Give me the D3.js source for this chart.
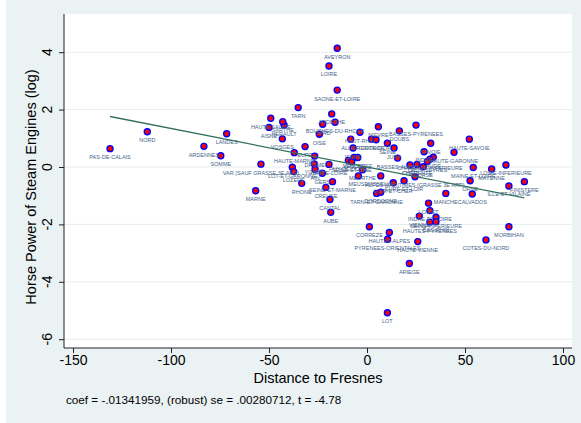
<!DOCTYPE html>
<html><head><meta charset="utf-8">
<script src="https://cdn.jsdelivr.net/npm/d3@7"></script>
<style>body{margin:0;background:#fff}</style>
</head><body>
<svg id="c" width="581" height="423"></svg>
<script>
const departments = ["PAS-DE-CALAIS","NORD","ARDENNES","SOMME","LANDES","MARNE","VAR (SAUF GRASSE 3E ARR)","AVEYRON","LOIRE","SAONE-ET-LOIRE",
"TARN","ARDECHE","BOUCHES-DU-RHONE","GARD","HAUTE-SAONE","AISNE","HERAULT","SARTHE","VOSGES","OISE",
"EURE","HAUTE-MARNE","DROME","YONNE","AIN","HAUTE-LOIRE","LOT-ET-GARONNE","LOZERE","RHONE","GERS",
"SEINE-ET-MARNE","CREUSE","CANTAL","AUBE","HAUT-RHIN","NIEVRE","DOUBS","BASSES-PYRENEES","ALLIER","ISERE",
"GIRONDE","COTE-D'OR","SEINE","JURA","SAVOIE","HAUTE-SAVOIE","HAUTE-GARONNE","PUY-DE-DOME","VENDEE","VAUCLUSE",
"SEINE-ET-OISE","MEURTHE","MEUSE","MOSELLE","LOIR-ET-CHER","EURE-ET-LOIR","ALPES-MARITIMES (GRASSE 3E ARR)","TARN-ET-GARONNE","DORDOGNE","BASSES-ALPES",
"INDRE","AUDE","CHARENTE-INFERIEURE","DEUX-SEVRES","CHARENTE","CHER","CORSE","MAINE-ET-LOIRE","MAYENNE","LOIRE-INFERIEURE",
"ORNE","MANCHE","CALVADOS","ILLE-ET-VILAINE","FINISTERE","LOIRET","INDRE-ET-LOIRE","VIENNE","SEINE-INFERIEURE","HAUTES-PYRENEES",
"BAS-RHIN","HAUTE-VIENNE","MORBIHAN","COTES-DU-NORD","ARIEGE","LOT","CORREZE","HAUTES-ALPES","PYRENEES-ORIENTALES"];
const distance = [-131.1,-112.1,-83.2,-74.6,-71.6,-56.8,-54.1,-15.2,-19.4,-15.2,
-35.1,-18.0,-16.3,-22.6,-49.1,-50.0,-42.3,-43.0,-43.2,-24.3,
-31.6,-37.1,-26.7,-26.9,-26.5,-19.4,-38.1,-37.4,-33.3,-22.8,
-17.6,-21.0,-18.9,-18.5,-3.6,5.8,16.5,25.0,-8.3,-7.1,
2.3,4.6,10.4,13.8,32.5,52.2,44.4,-9.5,-6.6,-4.7,
-7.8,-2.3,-4.4,7.0,13.4,18.9,24.5,4.9,7.0,15.6,
29.1,33.8,32.1,30.8,25.5,21.9,28.7,54.2,63.6,70.9,
52.6,40.2,53.7,72.4,80.3,31.4,32.1,26.7,35.2,32.1,
35.2,25.9,72.4,60.7,21.6,10.4,1.2,11.4,10.5];
const horsepower = [0.64,1.23,0.72,0.39,1.16,-0.83,0.10,4.14,3.52,2.68,
2.07,1.85,1.56,1.49,1.70,1.38,1.46,1.58,0.98,1.14,
0.71,0.50,0.38,0.11,-0.08,0.09,-0.01,-0.16,-0.57,-0.22,
-0.51,-0.71,-1.13,-1.58,1.21,1.40,1.26,1.46,0.97,0.66,
0.97,0.95,0.83,0.66,0.83,0.97,0.51,0.23,0.33,0.33,
0.18,-0.10,-0.31,-0.31,-0.55,-0.48,-0.34,-0.92,-0.88,0.31,
0.53,0.34,0.27,0.19,0.09,0.07,0.01,-0.02,-0.07,0.07,
-0.48,-0.92,-0.94,-0.66,-0.51,-1.26,-1.52,-1.71,-1.75,-1.92,
-1.91,-2.60,-2.08,-2.54,-3.36,-5.08,-2.08,-2.28,-2.52];
const xTicks = [-150,-100,-50,0,50,100];
const yTicks = [-6,-4,-2,0,2,4];
const coef = -0.01341959;
const xTitle = "Distance to Fresnes";
const yTitle = "Horse Power of Steam Engines (log)";
const noteText = "coef = -.01341959, (robust) se = .00280712, t = -4.78";

const font = "'Liberation Sans', Arial, Helvetica, sans-serif";
const svg = d3.select("#c");
const W = 581, H = 423;
const plot = {l: 64, t: 14, r: 572, b: 348};

svg.append("rect").attr("x", 6).attr("y", 0).attr("width", W - 6).attr("height", H).attr("fill", "#eaf2f3");
svg.append("rect").attr("x", plot.l).attr("y", plot.t).attr("width", plot.r - plot.l).attr("height", plot.b - plot.t).attr("fill", "#ffffff");

const x = d3.scaleLinear().domain([-150, 100]).range([73, 563]);
const y = d3.scaleLinear().domain([-6, 4]).range([339.2, 52.2]);

// grid
svg.append("g").selectAll("line").data(yTicks).join("line")
  .attr("x1", plot.l).attr("x2", plot.r)
  .attr("y1", d => y(d)).attr("y2", d => y(d))
  .attr("stroke", "#e4edef").attr("stroke-width", 1);

// y axis
const yAxis = svg.append("g").attr("transform", `translate(${plot.l},0)`)
  .call(d3.axisLeft(y).tickValues(yTicks).tickSize(5).tickFormat(d3.format("d")));
yAxis.select(".domain").attr("d", `M0,${plot.t}V${plot.b}`).attr("stroke", "#222");
yAxis.selectAll(".tick line").attr("stroke", "#222");
yAxis.selectAll(".tick text").remove();
svg.append("g").selectAll("text").data(yTicks).join("text")
  .attr("transform", d => `translate(52,${y(d)}) rotate(-90)`)
  .attr("text-anchor", "middle").attr("font-family", font).attr("font-size", 14)
  .attr("fill", "#000").text(d => d3.format("d")(d).replace("\u2212", "-"));

// x axis
const xAxis = svg.append("g").attr("transform", `translate(0,${plot.b})`)
  .call(d3.axisBottom(x).tickValues(xTicks).tickSize(5).tickFormat(d => d3.format("d")(d).replace("\u2212", "-")));
xAxis.select(".domain").attr("d", `M${plot.l},0H${plot.r}`).attr("stroke", "#222");
xAxis.selectAll(".tick line").attr("stroke", "#222");
xAxis.selectAll(".tick text").attr("font-family", font).attr("font-size", 14).attr("fill", "#000")
  .attr("y", 0).attr("dy", 0).attr("transform", "translate(0,17)");

// titles
svg.append("text").attr("x", (plot.l + plot.r) / 2).attr("y", 383)
  .attr("text-anchor", "middle").attr("font-family", font).attr("font-size", 14.5).text(xTitle);
svg.append("text").attr("transform", `translate(36,187) rotate(-90)`)
  .attr("text-anchor", "middle").attr("font-family", font).attr("font-size", 14.5).text(yTitle);
svg.append("text").attr("x", 66).attr("y", 404)
  .attr("font-family", font).attr("font-size", 11.7).text(noteText);

// points
const data = departments.map((d, i) => ({name: d, x: distance[i], y: horsepower[i]}));
const pts = svg.append("g");
pts.selectAll("circle").data(data).join("circle")
  .attr("cx", d => x(d.x)).attr("cy", d => y(d.y)).attr("r", 3)
  .attr("fill", "#ff0000").attr("stroke", "#0000ff").attr("stroke-width", 1.4);
pts.selectAll("text").data(data).join("text")
  .attr("x", d => x(d.x)).attr("y", d => y(d.y) + 10.5)
  .attr("text-anchor", "middle").attr("font-family", font).attr("font-size", 5.5)
  .attr("fill", "#46648a").text(d => d.name);

// fit line
const ext = d3.extent(distance);
svg.append("line")
  .attr("x1", x(ext[0])).attr("y1", y(coef * ext[0]))
  .attr("x2", x(ext[1])).attr("y2", y(coef * ext[1]))
  .attr("stroke", "#33705f").attr("stroke-width", 1.3);
</script>
</body></html>
